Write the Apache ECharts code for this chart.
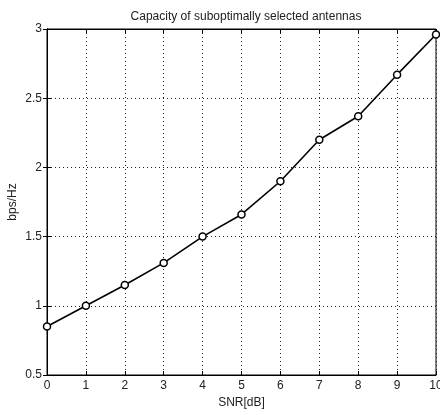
<!DOCTYPE html>
<html>
<head>
<meta charset="utf-8">
<script src="https://cdn.jsdelivr.net/npm/echarts@6/dist/echarts.min.js"></script>
<style>
  html, body { margin: 0; padding: 0; background: #fff; }
  #chart { width: 440px; height: 415px; }
</style>
</head>
<body>
<div id="chart"></div>
<script>
const snr = [0, 1, 2, 3, 4, 5, 6, 7, 8, 9, 10];
const capacity = [0.85, 1.0, 1.15, 1.31, 1.5, 1.66, 1.9, 2.2, 2.37, 2.67, 2.96];

const chart = echarts.init(document.getElementById("chart"));
const font = "Liberation Sans";
const tick = { show: true, inside: true, length: 4, lineStyle: { color: "#000" } };
chart.setOption({
  animation: false,
  title: {
    text: "Capacity of suboptimally selected antennas",
    left: 241, top: 6, textAlign: "center",
    textStyle: { fontFamily: font, fontSize: 12, fontWeight: "normal", color: "#222" },
  },
  grid: {
    left: 47, right: 4, top: 29, bottom: 40, show: true, borderColor: "#000", borderWidth: 1,
    outerBoundsMode: "none", containLabel: false,
  },
  xAxis: [{
    type: "value", min: 0, max: 10, interval: 1,
    name: "SNR[dB]", nameLocation: "middle", nameGap: 22,
    nameTextStyle: { fontFamily: font, fontSize: 12, color: "#222" },
    axisLine: { show: true, lineStyle: { color: "#000" } },
    axisTick: tick,
    axisLabel: { fontFamily: font, fontSize: 12, color: "#222", margin: 5 },
    splitLine: { show: true, lineStyle: { type: [1, 3], color: "#222" } },
  }, {
    type: "value", position: "top", min: 0, max: 10, interval: 1,
    axisLine: { show: true, lineStyle: { color: "#000" } },
    axisTick: tick, axisLabel: { show: false }, splitLine: { show: false },
  }],
  yAxis: [{
    type: "value", min: 0.5, max: 3, interval: 0.5,
    name: "bps/Hz", nameLocation: "middle", nameGap: 28, nameMoveOverlap: false,
    nameTextStyle: { fontFamily: font, fontSize: 12, color: "#222" },
    axisLine: { show: true, lineStyle: { color: "#000" } },
    axisTick: tick,
    axisLabel: { fontFamily: font, fontSize: 12, color: "#222", margin: 5 },
    splitLine: { show: true, lineStyle: { type: [1, 3], color: "#222" } },
  }, {
    type: "value", position: "right", min: 0.5, max: 3, interval: 0.5,
    axisLine: { show: true, lineStyle: { color: "#000" } },
    axisTick: tick, axisLabel: { show: false }, splitLine: { show: false },
  }],
  series: [{
    type: "line",
    data: snr.map((x, i) => [x, capacity[i]]),
    symbol: "circle", symbolSize: 7,
    lineStyle: { color: "#000", width: 1.6 },
    itemStyle: { color: "#fff", borderColor: "#000", borderWidth: 1.5 },
  }],
});
</script>
</body>
</html>
